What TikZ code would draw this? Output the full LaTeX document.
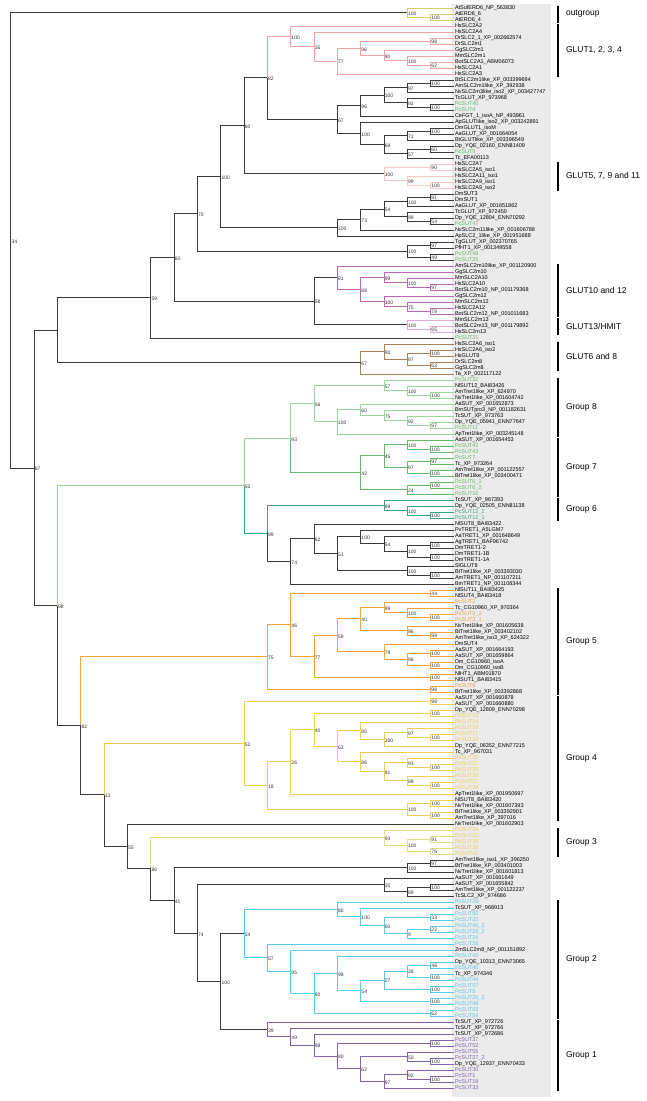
\documentclass[tikz,border=0pt]{standalone}
\usepackage{fontspec}
\setmainfont{Liberation Sans}
\usetikzlibrary{calc}
\definecolor{treeInk}{HTML}{3A3A3A}
\definecolor{labelWash}{HTML}{EBEBEB}
\definecolor{ogCol}{HTML}{CFCF70}
\definecolor{pinkA}{HTML}{F4A3A3}
\definecolor{pinkB}{HTML}{F7C6C6}
\definecolor{magA}{HTML}{C065B5}
\definecolor{magB}{HTML}{E3A9DB}
\definecolor{brownA}{HTML}{A88257}
\definecolor{grnE}{HTML}{99D699}
\definecolor{grnS}{HTML}{66BB6A}
\definecolor{grnX}{HTML}{3AA57A}
\definecolor{orng}{HTML}{F2A33A}
\definecolor{ylwD}{HTML}{F4CD55}
\definecolor{ylwT}{HTML}{E0DE82}
\definecolor{cyanB}{HTML}{5BC8E8}
\definecolor{purp}{HTML}{8463AE}
\colorlet{k}{black}
\tikzset{
  branch/.style = {line width=0.9pt},
  tiplbl/.style = {anchor=west, inner sep=0.8pt, font=\fontsize{5.5}{5.5}\selectfont},
  bslbl/.style  = {anchor=west, inner sep=0.6pt, yshift=-1.2pt,
                   font=\fontsize{5}{5}\selectfont, text=black!80},
  grplbl/.style = {anchor=west, xshift=4pt, font=\fontsize{8.5}{10}\selectfont},
  grpbar/.style = {line width=1.4pt, draw=black},
}
% name, height, upper child, lower child, support, upper colour, lower colour
\newcommand{\clade}[7]{%
  \path let \p1=(#3), \p2=(#4) in
    coordinate (#1) at ({(454-23.33*#2)*1pt},{0.5*(\y1+\y2)});
  \draw[branch,draw=#6] (#3) -| (#1);
  \draw[branch,draw=#7] (#1) |- (#4);
  \node[bslbl] (#1l) at (#1) {#5};
}
\newcommand{\grp}[4]{%
  \draw[grpbar] (558,{8+(#1-1)*6-2.5}) -- (558,{8+(#2-1)*6+2.5})
    node[grplbl, midway] (#4) {#3};
}

\begin{document}
\begin{tikzpicture}[x=1pt,y=-1pt]
  \useasboundingbox (0,0) rectangle (646,1101);
  \fill[labelWash] (452,4) rectangle (551,1097);

  \foreach \lab/\col [count=\i] in {
    AtSufERD6\_NP\_563830/k, AtERD6\_6/k, AtERD6\_4/k,
    HsSLC2A2/k, HsSLC2A4/k, DrSLC2\_1\_XP\_002662574/k, DrSLC2m1/k, GgSLC2m1/k,
    MmSLC2m1/k, BotSLC2A1\_ABM06073/k, HsSLC2A1/k, HsSLC2A3/k,
    BtSLC2m1like\_XP\_003399694/k, AmSLC2m1like\_XP\_392938/k,
    NvSLC2m3like\_iso2\_XP\_003427747/k, TcGLUT\_XP\_973968/k, PcSUT40/grnS, PcSUT4/grnS,
    CeFGT\_1\_isoA\_NP\_493961/k, ApGLUTlike\_iso2\_XP\_003242891/k, DmGLUT1\_isoM/k,
    AaGLUT\_XP\_001664054/k, BtGLUTlike\_XP\_003396549/k, Dp\_YQE\_02160\_ENN81409/k,
    PcSUT5/grnS, Tc\_EFA00113/k,
    HsSLC2A7/k, HsSLC2A5\_iso1/k, HsSLC2A11\_iso1/k, HsSLC2A9\_iso1/k, HsSLC2A9\_iso2/k,
    DmSUT3/k, DmSUT1/k, AaGLUT\_XP\_001651862/k, TcGLUT\_XP\_972450/k,
    Dp\_YQE\_12804\_ENN70292/k, PcSUT47/grnS, NvSLC2m11like\_XP\_001606788/k,
    ApSLC2\_1like\_XP\_001951688/k, TgGLUT\_XP\_002370765/k, PfHT1\_XP\_001349558/k,
    PcSUT48/grnS, PcSUT25/grnS,
    AmSLC2m10like\_XP\_001120900/k, GgSLC2m10/k, MmSLC2A10/k, HsSLC2A10/k,
    BotSLC2m10\_NP\_001179368/k, GgSLC2m12/k, MmSLC2m12/k, HsSLC2A12/k,
    BotSLC2m12\_NP\_001011683/k, MmSLC2m13/k, BotSLC2m13\_NP\_001179892/k, HsSLC2m13/k,
    PcSUT31/grnS,
    HsSLC2A6\_iso1/k, HsSLC2A6\_iso2/k, HsGLUT8/k, DrSLC2m8/k, GgSLC2m8/k, Ta\_XP\_002117122/k,
    PcSUT32/grnS, NlSUT12\_BAI83426/k, AmTret1like\_XP\_624970/k, NvTret1like\_XP\_001604742/k,
    AaSUT\_XP\_001652873/k, BmSUTpro3\_NP\_001182631/k, TcSUT\_XP\_973763/k,
    Dp\_YQE\_05941\_ENN77647/k, PcSUT11/grnS, ApTret1like\_XP\_003245148/k,
    AaSUT\_XP\_001654453/k, PcSUT42/grnS, PcSUT43/grnS, PcSUT7/grnS, Tc\_XP\_973264/k,
    AmTret1like\_XP\_001122557/k, BtTret1like\_XP\_003400471/k, PcSUT6\_1/grnS,
    PcSUT6\_2/grnS, PcSUT16/grnS,
    TcSUT\_XP\_967393/k, Dp\_YQE\_02505\_ENN81138/k, PcSUT12\_2/grnX, PcSUT12\_1/grnX,
    NlSUT8\_BAI83422/k, PvTRET1\_A5LGM7/k, AaTRET1\_XP\_001648649/k, AgTRET1\_BAF96742/k,
    DmTRET1-2/k, DmTRET1-1B/k, DmTRET1-1A/k, SlGLUT8/k, BtTret1like\_XP\_003393030/k,
    AmTRET1\_NP\_001107211/k, BmTRET1\_NP\_001108344/k,
    NlSUT11\_BAI83425/k, NlSUT4\_BAI83418/k, PcSUT2/orng, Tc\_CG10960\_XP\_970364/k,
    PcSUT3\_2/orng, PcSUT3\_1/orng, NvTret1like\_XP\_001605638/k,
    BtTret1like\_XP\_003402102/k, AmTret1like\_iso3\_XP\_624322/k, DmSUT4/k,
    AaSUT\_XP\_001664193/k, AaSUT\_XP\_001659864/k, Dm\_CG10960\_isoA/k,
    Dm\_CG10960\_isoB/k, NlHT1\_ABM01870/k, NlSUT1\_BAI83415/k, PcSUT9/orng,
    BtTret1like\_XP\_003392868/k,
    AaSUT\_XP\_001660878/k, AaSUT\_XP\_001660880/k, Dp\_YQE\_12809\_ENN70298/k,
    PcSUT13/ylwD, PcSUT14/ylwD, PcSUT15/ylwD, PcSUT17/ylwD, PcSUT18/ylwD,
    Dp\_YQE\_06352\_ENN77215/k, Tc\_XP\_967031/k, PcSUT20/ylwD, PcSUT21/ylwD,
    PcSUT23/ylwD, PcSUT26/ylwD, PcSUT27/ylwD, PcSUT39/ylwD,
    ApTret1like\_XP\_001950697/k, NlSUT8\_BAI83420/k, NvTret1like\_XP\_001607393/k,
    BtTret1like\_XP\_003392901/k, AmTret1like\_XP\_397016/k, NvTret1like\_XP\_001602903/k,
    PcSUT34/ylwD, PcSUT35/ylwD, PcSUT36/ylwD, PcSUT38/ylwD, PcSUT41/ylwD,
    AmTret1like\_iso1\_XP\_396250/k, BtTret1like\_XP\_003401003/k,
    NvTret1like\_XP\_001601813/k, AaSUT\_XP\_001661649/k, AaSUT\_XP\_001655842/k,
    AmTret1like\_XP\_001122237/k, TcSLC2\_XP\_974686/k,
    PcSUT29/cyanB, TcSUT\_XP\_968913/k, PcSUT50/cyanB, PcSUT22/cyanB, PcSUT40\_2/cyanB,
    PcSUT29\_2/cyanB, PcSUT24/cyanB, PcSUT28/cyanB, ZmSLC2m8\_NP\_001151892/k,
    PcSUT45/cyanB, Dp\_YQE\_10313\_ENN73065/k, PcSUT46/cyanB, Tc\_XP\_974346/k,
    PcSUT44/cyanB, PcSUT57/cyanB, PcSUT8/cyanB, PcSUT26\_2/cyanB, PcSUT49/cyanB,
    PcSUT53/cyanB, PcSUT54/cyanB,
    TcSUT\_XP\_972726/k, TcSUT\_XP\_972766/k, TcSUT\_XP\_972686/k, PcSUT37/purp,
    PcSUT52/purp, PcSUT55/purp, PcSUT27\_2/purp, Dp\_YQE\_12937\_ENN70433/k,
    PcSUT30/purp, PcSUT1/purp, PcSUT19/purp, PcSUT33/purp}
    \node[tiplbl, text=\col] (t\i) at (454,{8+(\i-1)*6}) {\lab};

  \clade{og2}{1}{t2}{t3}{100}{ogCol}{ogCol}
  \clade{og1}{2}{t1}{og2}{100}{ogCol}{ogCol}

  \clade{ga1}{1}{t6}{t7}{98}{pinkA}{pinkA}
  \clade{ga2}{1}{t10}{t11}{62}{pinkA}{pinkA}
  \clade{ga3}{2}{t9}{ga2}{100}{pinkA}{pinkA}
  \clade{ga4}{3}{t8}{ga3}{90}{pinkA}{pinkA}
  \clade{ga5}{4}{ga1}{ga4}{96}{pinkA}{pinkA}
  \clade{ga6}{5}{ga5}{t12}{77}{pinkA}{pinkA}
  \clade{ga7}{6}{t5}{ga6}{35}{pinkA}{pinkA}
  \clade{ga8}{7}{t4}{ga7}{100}{pinkA}{pinkA}

  \clade{gb1}{1}{t13}{t14}{100}{treeInk}{treeInk}
  \clade{gb2}{2}{gb1}{t15}{97}{treeInk}{treeInk}
  \clade{gb3}{1}{t17}{t18}{100}{treeInk}{treeInk}
  \clade{gb4}{2}{t16}{gb3}{92}{treeInk}{treeInk}
  \clade{gb5}{3}{gb2}{gb4}{100}{treeInk}{treeInk}
  \clade{gb6}{4}{gb5}{t19}{96}{treeInk}{treeInk}
  \clade{gb7}{1}{t21}{t22}{100}{treeInk}{treeInk}
  \clade{gb8}{2}{gb7}{t23}{71}{treeInk}{treeInk}
  \clade{gb9}{1}{t24}{t25}{60}{treeInk}{treeInk}
  \clade{gb10}{2}{gb9}{t26}{57}{treeInk}{treeInk}
  \clade{gb11}{3}{gb8}{gb10}{69}{treeInk}{treeInk}
  \clade{gb12}{4}{t20}{gb11}{100}{treeInk}{treeInk}
  \clade{gb13}{5}{gb6}{gb12}{67}{treeInk}{treeInk}
  \clade{gb14}{8}{ga8}{gb13}{82}{pinkA}{treeInk}

  \clade{gc1}{1}{t27}{t28}{90}{pinkB}{pinkB}
  \clade{gc2}{1}{t30}{t31}{100}{pinkB}{pinkB}
  \clade{gc3}{2}{t29}{gc2}{99}{pinkB}{pinkB}
  \clade{gc4}{3}{gc1}{gc3}{100}{pinkB}{pinkB}
  \clade{gc5}{9}{gb14}{gc4}{60}{treeInk}{treeInk}

  \clade{gd1}{1}{t32}{t33}{81}{treeInk}{treeInk}
  \clade{gd2}{2}{gd1}{t34}{100}{treeInk}{treeInk}
  \clade{gd3}{1}{t36}{t37}{54}{treeInk}{treeInk}
  \clade{gd4}{2}{t35}{gd3}{99}{treeInk}{treeInk}
  \clade{gd5}{3}{gd2}{gd4}{54}{treeInk}{treeInk}
  \clade{gd6}{4}{gd5}{t38}{73}{treeInk}{treeInk}
  \clade{gd7}{5}{gd6}{t39}{100}{treeInk}{treeInk}
  \clade{gd8}{10}{gc5}{gd7}{100}{treeInk}{treeInk}

  \clade{ge1}{1}{t40}{t41}{97}{treeInk}{treeInk}
  \clade{ge2}{1}{t42}{t43}{49}{treeInk}{treeInk}
  \clade{ge3}{2}{ge1}{ge2}{100}{treeInk}{treeInk}
  \clade{ge4}{11}{gd8}{ge3}{70}{treeInk}{treeInk}

  \clade{gf1}{1}{t47}{t48}{97}{magA}{magA}
  \clade{gf2}{2}{t46}{gf1}{100}{magA}{magA}
  \clade{gf3}{3}{t45}{gf2}{99}{magA}{magA}
  \clade{gf4}{1}{t51}{t52}{78}{magA}{magA}
  \clade{gf5}{2}{t50}{gf4}{75}{magA}{magA}
  \clade{gf6}{3}{t49}{gf5}{100}{magA}{magA}
  \clade{gf7}{4}{gf3}{gf6}{88}{magA}{magA}
  \clade{gf8}{5}{t44}{gf7}{81}{magA}{magA}
  \clade{gf9}{1}{t54}{t55}{65}{magB}{magB}
  \clade{gf10}{2}{t53}{gf9}{100}{magB}{magB}
  \clade{gf11}{6}{gf8}{gf10}{58}{treeInk}{treeInk}
  \clade{gf12}{12}{ge4}{gf11}{60}{treeInk}{treeInk}
  \clade{gf13}{13}{gf12}{t56}{59}{treeInk}{treeInk}

  \clade{gg1}{1}{t58}{t59}{100}{brownA}{brownA}
  \clade{gg2}{1}{t60}{t61}{63}{brownA}{brownA}
  \clade{gg3}{2}{gg1}{gg2}{97}{brownA}{brownA}
  \clade{gg4}{3}{t57}{gg3}{90}{brownA}{brownA}
  \clade{gg5}{4}{gg4}{t62}{67}{brownA}{brownA}

  \clade{s1}{1}{t65}{t66}{100}{grnE}{grnE}
  \clade{s2}{2}{t64}{s1}{100}{grnE}{grnE}
  \clade{s3}{3}{t63}{s2}{57}{grnE}{grnE}
  \clade{s4}{1}{t70}{t71}{97}{grnE}{grnE}
  \clade{s5}{2}{t69}{s4}{92}{grnE}{grnE}
  \clade{s6}{3}{t68}{s5}{75}{grnE}{grnE}
  \clade{s7}{4}{t67}{s6}{60}{grnE}{grnE}
  \clade{s8}{5}{s7}{t72}{100}{grnE}{grnE}
  \clade{s9}{6}{s3}{s8}{56}{grnE}{grnE}
  \clade{s10}{1}{t74}{t75}{100}{grnS}{grnS}
  \clade{s11}{2}{t73}{s10}{100}{grnS}{grnS}
  \clade{s12}{1}{t76}{t77}{97}{grnS}{grnS}
  \clade{s13}{1}{t78}{t79}{100}{grnS}{grnS}
  \clade{s14}{2}{s12}{s13}{97}{grnS}{grnS}
  \clade{s15}{3}{s11}{s14}{45}{grnS}{grnS}
  \clade{s16}{1}{t80}{t81}{100}{grnS}{grnS}
  \clade{s17}{2}{s16}{t82}{24}{grnS}{grnS}
  \clade{s18}{4}{s15}{s17}{42}{grnS}{grnS}
  \clade{s19}{7}{s9}{s18}{93}{grnE}{grnS}
  \clade{s20}{1}{t85}{t86}{100}{grnX}{grnX}
  \clade{s21}{2}{t84}{s20}{100}{grnX}{grnX}
  \clade{s22}{3}{t83}{s21}{99}{grnX}{grnX}
  \clade{s23}{1}{t90}{t91}{100}{treeInk}{treeInk}
  \clade{s24}{1}{t92}{t93}{100}{treeInk}{treeInk}
  \clade{s25}{2}{s23}{s24}{100}{treeInk}{treeInk}
  \clade{s26}{3}{t89}{s25}{54}{treeInk}{treeInk}
  \clade{s27}{4}{t88}{s26}{100}{treeInk}{treeInk}
  \clade{s28}{1}{t95}{t96}{100}{treeInk}{treeInk}
  \clade{s29}{2}{t94}{s28}{100}{treeInk}{treeInk}
  \clade{s30}{5}{s27}{s29}{51}{treeInk}{treeInk}
  \clade{s31}{6}{t87}{s30}{82}{treeInk}{treeInk}
  \clade{s32}{7}{s31}{t97}{74}{treeInk}{treeInk}
  \clade{s33}{8}{s22}{s32}{99}{grnX}{treeInk}
  \clade{s34}{9}{s19}{s33}{55}{grnE}{grnX}

  \clade{o1}{1}{t98}{t99}{44}{orng}{orng}
  \clade{o2}{1}{t102}{t103}{100}{orng}{orng}
  \clade{o3}{2}{t101}{o2}{100}{orng}{orng}
  \clade{o4}{3}{t100}{o3}{99}{orng}{orng}
  \clade{o5}{1}{t105}{t106}{98}{orng}{orng}
  \clade{o6}{2}{t104}{o5}{96}{orng}{orng}
  \clade{o7}{4}{o4}{o6}{40}{orng}{orng}
  \clade{o8}{1}{t108}{t109}{100}{orng}{orng}
  \clade{o9}{1}{t110}{t111}{100}{orng}{orng}
  \clade{o10}{2}{o8}{o9}{96}{orng}{orng}
  \clade{o11}{3}{t107}{o10}{79}{orng}{orng}
  \clade{o12}{5}{o7}{o11}{59}{orng}{orng}
  \clade{o13}{1}{t112}{t113}{100}{orng}{orng}
  \clade{o14}{6}{o12}{o13}{77}{orng}{orng}
  \clade{o15}{7}{o1}{o14}{46}{orng}{orng}
  \clade{o16}{1}{t114}{t115}{98}{orng}{orng}
  \clade{o17}{8}{o15}{o16}{75}{orng}{orng}

  \clade{y1}{1}{t116}{t117}{98}{ylwD}{ylwD}
  \clade{y2}{1}{t118}{t119}{100}{ylwD}{ylwD}
  \clade{y3}{1}{t122}{t123}{100}{ylwD}{ylwD}
  \clade{y4}{2}{t121}{y3}{97}{ylwD}{ylwD}
  \clade{y5}{3}{y4}{t124}{100}{ylwD}{ylwD}
  \clade{y6}{4}{t120}{y5}{80}{ylwD}{ylwD}
  \clade{y7}{1}{t127}{t128}{100}{ylwD}{ylwD}
  \clade{y8}{2}{t126}{y7}{93}{ylwD}{ylwD}
  \clade{y9}{1}{t130}{t131}{100}{ylwD}{ylwD}
  \clade{y10}{2}{t129}{y9}{89}{ylwD}{ylwD}
  \clade{y11}{3}{y8}{y10}{81}{ylwD}{ylwD}
  \clade{y12}{4}{t125}{y11}{86}{ylwD}{ylwD}
  \clade{y13}{5}{y6}{y12}{63}{ylwD}{ylwD}
  \clade{y14}{6}{y2}{y13}{40}{ylwD}{ylwD}
  \clade{y15}{7}{y14}{t132}{26}{ylwD}{ylwD}
  \clade{y16}{1}{t133}{t134}{100}{ylwD}{ylwD}
  \clade{y17}{1}{t135}{t136}{100}{ylwD}{ylwD}
  \clade{y18}{2}{y16}{y17}{100}{ylwD}{ylwD}
  \clade{y19}{8}{y15}{y18}{18}{ylwD}{ylwD}
  \clade{y20}{9}{y1}{y19}{52}{ylwD}{ylwD}

  \clade{p1}{1}{t139}{t140}{91}{ylwT}{ylwT}
  \clade{p2}{1}{t141}{t142}{76}{ylwT}{ylwT}
  \clade{p3}{2}{p1}{p2}{100}{ylwT}{ylwT}
  \clade{p4}{3}{t138}{p3}{93}{ylwT}{ylwT}

  \clade{k1}{1}{t143}{t144}{97}{treeInk}{treeInk}
  \clade{k2}{2}{k1}{t145}{100}{treeInk}{treeInk}
  \clade{k3}{1}{t147}{t148}{100}{treeInk}{treeInk}
  \clade{k4}{2}{k3}{t149}{69}{treeInk}{treeInk}
  \clade{k5}{3}{t146}{k4}{35}{treeInk}{treeInk}

  \clade{b1}{1}{t152}{t153}{33}{cyanB}{cyanB}
  \clade{b2}{1}{t154}{t155}{22}{cyanB}{cyanB}
  \clade{b3}{2}{b2}{t156}{9}{cyanB}{cyanB}
  \clade{b4}{3}{b1}{b3}{60}{cyanB}{cyanB}
  \clade{b5}{4}{t151}{b4}{100}{cyanB}{cyanB}
  \clade{b6}{5}{t150}{b5}{80}{cyanB}{cyanB}
  \clade{b7}{1}{t160}{t161}{48}{cyanB}{cyanB}
  \clade{b8}{1}{t162}{t163}{100}{cyanB}{cyanB}
  \clade{b9}{2}{b7}{b8}{28}{cyanB}{cyanB}
  \clade{b10}{1}{t164}{t165}{100}{cyanB}{cyanB}
  \clade{b11}{3}{b9}{b10}{27}{cyanB}{cyanB}
  \clade{b12}{1}{t166}{t167}{100}{cyanB}{cyanB}
  \clade{b13}{4}{b11}{b12}{54}{cyanB}{cyanB}
  \clade{b14}{5}{t159}{b13}{98}{cyanB}{cyanB}
  \clade{b15}{1}{t168}{t169}{62}{cyanB}{cyanB}
  \clade{b16}{6}{b14}{b15}{90}{cyanB}{cyanB}
  \clade{b17}{7}{t158}{b16}{95}{cyanB}{cyanB}
  \clade{b18}{8}{t157}{b17}{57}{cyanB}{cyanB}
  \clade{b19}{9}{b6}{b18}{54}{cyanB}{cyanB}

  \clade{u1}{1}{t173}{t174}{100}{purp}{purp}
  \clade{u2}{1}{t176}{t177}{100}{purp}{purp}
  \clade{u3}{2}{t175}{u2}{50}{purp}{purp}
  \clade{u4}{1}{t179}{t180}{100}{purp}{purp}
  \clade{u5}{2}{t178}{u4}{92}{purp}{purp}
  \clade{u6}{3}{u5}{t181}{97}{purp}{purp}
  \clade{u7}{4}{u3}{u6}{62}{purp}{purp}
  \clade{u8}{5}{u1}{u7}{80}{purp}{purp}
  \clade{u9}{6}{t172}{u8}{99}{purp}{purp}
  \clade{u10}{7}{t171}{u9}{49}{purp}{purp}
  \clade{u11}{8}{t170}{u10}{39}{purp}{purp}

  \clade{b20}{10}{b19}{u11}{100}{treeInk}{treeInk}
  \clade{k6}{11}{k5}{b20}{74}{treeInk}{treeInk}
  \clade{k7}{12}{k2}{k6}{41}{treeInk}{treeInk}
  \clade{k8}{13}{p4}{k7}{86}{ylwT}{treeInk}
  \clade{k9}{14}{t137}{k8}{55}{treeInk}{treeInk}
  \clade{k10}{15}{y20}{k9}{33}{ylwD}{treeInk}

  \clade{m1}{16}{o17}{k10}{82}{orng}{treeInk}
  \clade{m2}{17}{s34}{m1}{98}{grnE}{treeInk}
  \clade{m3}{17}{gf13}{gg5}{}{treeInk}{treeInk}
  \clade{m4}{18}{m3}{m2}{87}{treeInk}{treeInk}
  \clade{root}{19}{og1}{m4}{34}{treeInk}{treeInk}

  \grp{1}{3}{outgroup}{gOut}
  \grp{4}{12}{GLUT1, 2, 3, 4}{gA}
  \grp{27}{31}{GLUT5, 7, 9 and 11}{gB}
  \grp{44}{52}{GLUT10 and 12}{gC}
  \grp{53}{55}{GLUT13/HMIT}{gD}
  \grp{57}{61}{GLUT6 and 8}{gE}
  \grp{63}{72}{Group 8}{g8}
  \grp{73}{82}{Group 7}{g7}
  \grp{83}{86}{Group 6}{g6}
  \grp{98}{115}{Group 5}{g5}
  \grp{116}{136}{Group 4}{g4}
  \grp{138}{142}{Group 3}{g3}
  \grp{150}{169}{Group 2}{g2}
  \grp{170}{181}{Group 1}{g1}
\end{tikzpicture}
\end{document}
